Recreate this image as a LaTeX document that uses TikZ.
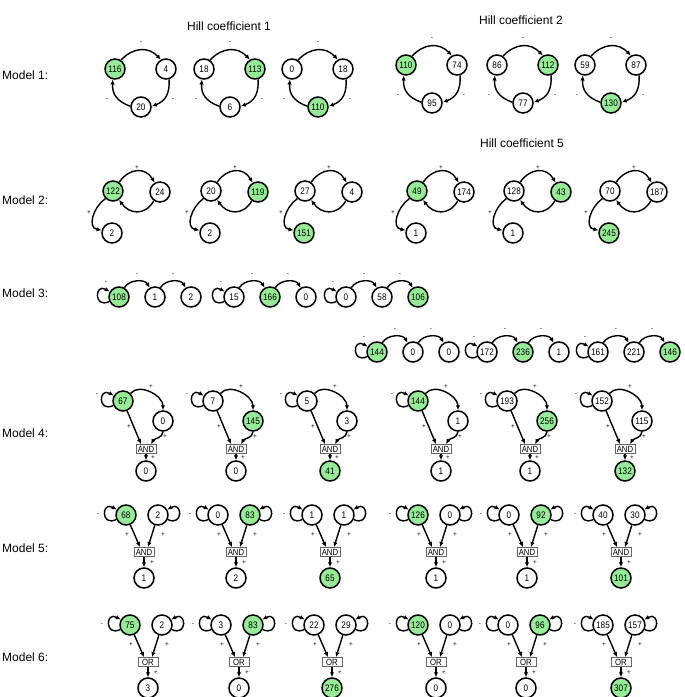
\documentclass[tikz,border=0pt]{standalone}
\usepackage{fontspec}
\setmainfont{Liberation Sans}
\newfontfamily\numfont[FakeStretch=0.86]{Liberation Sans}
\usetikzlibrary{arrows.meta}
\definecolor{ngreen}{RGB}{150,236,150}
\tikzset{
  nd/.style={circle,draw,line width=1.5pt,minimum size=20pt,inner sep=0pt,font=\numfont\fontsize{9.5}{9.5}\selectfont},
  gn/.style={nd,fill=ngreen},
  wn/.style={nd,fill=white},
  gatebox/.style={draw=black!60,line width=0.8pt,fill=white,minimum width=20pt,minimum height=9pt,inner sep=1pt,font=\numfont\fontsize{9}{9}\selectfont},
  sg/.style={font=\fontsize{6.5}{6.5}\selectfont,inner sep=0pt},
  edge/.style={line width=1.4pt,-{Latex[length=5pt,width=4.5pt]}},
  ttl/.style={font=\fontsize{12}{12}\selectfont,inner sep=0pt},
  pics/ring/.style n args={6}{code={
    \node[#4] (-a) at (-26,11) {#1};
    \node[#5] (-b) at (25,11) {#2};
    \node[#6] (-c) at (0,-27) {#3};
    \draw[edge] (-a.56) to[out=47,in=133,looseness=1.15] (-b.119);
    \draw[edge] (-b.-73) to[out=-87,in=20,looseness=1.15] (-c.4);
    \draw[edge] (-c.176) to[out=160,in=267,looseness=1.15] (-a.258);
    \node[sg] (-l1) at (0,37) {-};
    \node[sg] (-l2) at (-34,-20) {-};
    \node[sg] (-l3) at (32,-20) {-};
  }},
  pics/fork/.style n args={6}{code={
    \node[#4] (-a) at (0,0) {#1};
    \node[#5] (-b) at (47,-1) {#2};
    \node[#6] (-c) at (-1,-42) {#3};
    \draw[edge] (-a.55) to[out=55,in=120,looseness=1.3] (-b.120);
    \draw[edge] (-b.235) to[out=240,in=305,looseness=1.3] (-a.-55);
    \draw[edge] (-a.225) to[out=215,in=170,looseness=1.2] (-c.165);
    \node[sg] (-l1) at (24,23) {+};
    \node[sg] (-l2) at (25,-22) {-};
    \node[sg] (-l3) at (-24,-22) {+};
  }},
  pics/chain/.style n args={6}{code={
    \node[#4] (-a) at (0,0) {#1};
    \node[#5] (-b) at (36,0) {#2};
    \node[#6] (-c) at (72,0) {#3};
    \draw[edge] (-a.205) to[out=205,in=150,looseness=4.5] (-a.150);
    \draw[edge] (-a.60) to[out=60,in=120] (-b.120);
    \draw[edge] (-b.60) to[out=60,in=120] (-c.120);
    \node[sg] (-l1) at (-13,14) {-};
    \node[sg] (-l2) at (18,22) {-};
    \node[sg] (-l3) at (54,22) {-};
  }},
  pics/andone/.style n args={6}{code={
    \node[#4] (-a) at (0,0) {#1};
    \node[#5] (-b) at (40,-20) {#2};
    \node[gatebox] (-g) at (23,-48) {AND};
    \node[#6] (-d) at (23,-70) {#3};
    \draw[edge] (-a.205) to[out=205,in=150,looseness=4.5] (-a.150);
    \draw[edge] (-a.45) to[out=50,in=90] (-b.north);
    \draw[edge] (-a) -- ([xshift=-5pt]-g.north);
    \draw[edge] (-b.south) to[out=265,in=60] ([xshift=5pt]-g.north);
    \draw[edge] (-g) -- (-d);
    \node[sg] (-l1) at (-26,6) {-};
    \node[sg] (-l2) at (28,14) {+};
    \node[sg] (-l3) at (6,-26) {+};
    \node[sg] (-l4) at (42,-36) {+};
    \node[sg] (-l5) at (30,-57) {+};
  }},
  pics/dual/.style n args={7}{code={
    \node[#5] (-a) at (0,0) {#1};
    \node[#6] (-b) at (32,0) {#2};
    \node[gatebox] (-g) at (18,-37) {#4};
    \node[#7] (-d) at (18,-63) {#3};
    \draw[edge] (-a.205) to[out=205,in=150,looseness=4.5] (-a.150);
    \draw[edge] (-b.-25) to[out=-25,in=30,looseness=4.5] (-b.30);
    \draw[edge] (-a) -- ([xshift=-4pt]-g.north);
    \draw[edge] (-b) -- ([xshift=4pt]-g.north);
    \draw[edge] (-g) -- (-d);
    \node[sg] (-l1) at (-28,0) {-};
    \node[sg] (-l2) at (54,0) {-};
    \node[sg] (-l3) at (1,-20) {+};
    \node[sg] (-l4) at (37,-20) {+};
    \node[sg] (-l5) at (26,-48) {+};
  }}
}
\begin{document}
\begin{tikzpicture}[x=1pt,y=1pt]
\fill[white] (0,0) rectangle (685,-697);
\useasboundingbox (0,0) rectangle (685,-697);
% titles
\node[ttl] (h1) at (229,-26) {Hill coefficient 1};
\node[ttl] (h2) at (521,-20) {Hill coefficient 2};
\node[ttl] (h5) at (522,-143) {Hill coefficient 5};
\node[ttl,anchor=west] (m1) at (2,-75) {Model 1:};
\node[ttl,anchor=west] (m2) at (2,-200) {Model 2:};
\node[ttl,anchor=west] (m3) at (2,-293) {Model 3:};
\node[ttl,anchor=west] (m4) at (2,-433) {Model 4:};
\node[ttl,anchor=west] (m5) at (2,-548) {Model 5:};
\node[ttl,anchor=west] (m6) at (2,-657) {Model 6:};
% Model 1
\pic (ra) at (141,-80) {ring={116}{4}{20}{gn}{wn}{wn}};
\pic (rb) at (230,-80) {ring={18}{113}{6}{wn}{gn}{wn}};
\pic (rc) at (318,-80) {ring={0}{18}{110}{wn}{wn}{gn}};
\pic (rd) at (432,-76) {ring={110}{74}{95}{gn}{wn}{wn}};
\pic (re) at (523,-76) {ring={86}{112}{77}{wn}{gn}{wn}};
\pic (rf) at (611,-76) {ring={59}{87}{130}{wn}{wn}{gn}};
% Model 2
\pic (fa) at (113,-191) {fork={122}{24}{2}{gn}{wn}{wn}};
\pic (fb) at (211,-191) {fork={20}{119}{2}{wn}{gn}{wn}};
\pic (fc) at (305,-191) {fork={27}{4}{151}{wn}{wn}{gn}};
\pic (fd) at (417,-191) {fork={49}{174}{1}{gn}{wn}{wn}};
\pic (fe) at (514,-191) {fork={128}{43}{1}{wn}{gn}{wn}};
\pic (ff) at (610,-191) {fork={70}{187}{245}{wn}{wn}{gn}};
% Model 3
\pic (ca) at (119,-297) {chain={108}{1}{2}{gn}{wn}{wn}};
\pic (cb) at (234,-297) {chain={15}{166}{0}{wn}{gn}{wn}};
\pic (cc) at (346,-297) {chain={0}{58}{106}{wn}{wn}{gn}};
\pic (cd) at (377,-352) {chain={144}{0}{0}{gn}{wn}{wn}};
\pic (ce) at (487,-352) {chain={172}{236}{1}{wn}{gn}{wn}};
\pic (cf) at (598,-352) {chain={161}{221}{146}{wn}{wn}{gn}};
% Model 4
\pic (aa) at (123,-401) {andone={67}{0}{0}{gn}{wn}{wn}};
\pic (ab) at (213,-401) {andone={7}{145}{0}{wn}{gn}{wn}};
\pic (ac) at (307,-401) {andone={5}{3}{41}{wn}{wn}{gn}};
\pic (ad) at (418,-401) {andone={144}{1}{1}{gn}{wn}{wn}};
\pic (ae) at (507,-401) {andone={193}{256}{1}{wn}{gn}{wn}};
\pic (af) at (602,-401) {andone={152}{115}{132}{wn}{wn}{gn}};
% Model 5
\pic (da) at (126,-515) {dual={68}{2}{1}{AND}{gn}{wn}{wn}};
\pic (db) at (218,-515) {dual={0}{83}{2}{AND}{wn}{gn}{wn}};
\pic (dc) at (312,-515) {dual={1}{1}{65}{AND}{wn}{wn}{gn}};
\pic (dd) at (418,-515) {dual={126}{0}{1}{AND}{gn}{wn}{wn}};
\pic (de) at (509,-515) {dual={0}{92}{1}{AND}{wn}{gn}{wn}};
\pic (df) at (603,-515) {dual={40}{30}{101}{AND}{wn}{wn}{gn}};
% Model 6
\pic (oa) at (130,-625) {dual={75}{2}{3}{OR}{gn}{wn}{wn}};
\pic (ob) at (221,-625) {dual={3}{83}{0}{OR}{wn}{gn}{wn}};
\pic (oc) at (314,-625) {dual={22}{29}{276}{OR}{wn}{wn}{gn}};
\pic (od) at (418,-625) {dual={120}{0}{0}{OR}{gn}{wn}{wn}};
\pic (oe) at (508,-625) {dual={0}{96}{0}{OR}{wn}{gn}{wn}};
\pic (of) at (603,-625) {dual={185}{157}{307}{OR}{wn}{wn}{gn}};
\end{tikzpicture}
\end{document}
